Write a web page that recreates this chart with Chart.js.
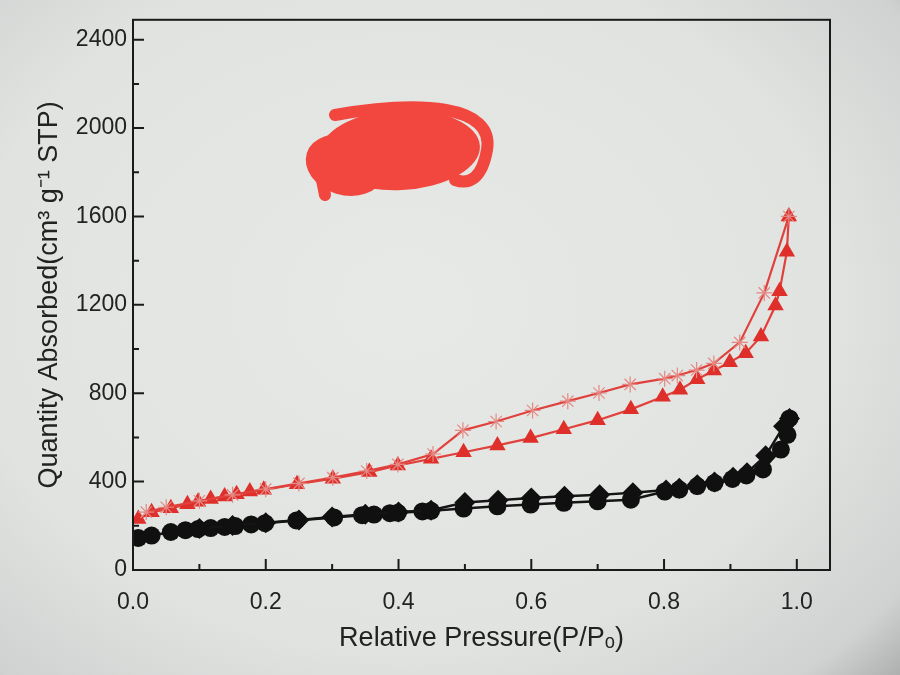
<!DOCTYPE html>
<html lang="en">
<head>
  <meta charset="UTF-8">
  <title>Isotherm</title>
  <script src="https://cdn.jsdelivr.net/npm/chart.js"></script>
  <style>
    html, body { margin: 0; padding: 0; }
    body {
      width: 900px; height: 675px; overflow: hidden;
      background: radial-gradient(ellipse 80% 85% at 45% 45%, #e6e9e6 0%, #e0e3e0 60%, #cfd2d0 85%, #9a9c9b 100%);
    }
    #wrap { position: relative; width: 900px; height: 675px; }
  </style>
</head>
<body>
  <div id="wrap"><canvas id="chart" width="900" height="675"></canvas></div>

  <script>
    // red sample: adsorption (triangles), desorption (stars)
    const redAdsP = [0.008, 0.028, 0.057, 0.082, 0.098, 0.117, 0.138, 0.156, 0.176, 0.197, 0.247, 0.301, 0.356, 0.399, 0.449, 0.498, 0.549, 0.599, 0.649, 0.700, 0.750, 0.798, 0.824, 0.850, 0.875, 0.899, 0.923, 0.946, 0.968, 0.974, 0.985, 0.988];
    const redAdsQ = [231, 261, 279, 298, 309, 321, 333, 343, 355, 363, 388, 413, 443, 473, 503, 533, 564, 597, 637, 678, 727, 784, 816, 863, 903, 940, 981, 1057, 1197, 1261, 1440, 1600];
    const redDesP = [0.988, 0.951, 0.914, 0.875, 0.849, 0.820, 0.801, 0.749, 0.702, 0.655, 0.602, 0.547, 0.497, 0.452, 0.399, 0.352, 0.301, 0.250, 0.200, 0.150, 0.100, 0.050, 0.020];
    const redDesQ = [1600, 1254, 1030, 935, 905, 880, 866, 840, 801, 764, 722, 672, 632, 525, 478, 448, 418, 392, 366, 340, 313, 284, 262];

    // black sample: adsorption (circles), desorption (diamonds)
    const blkAdsP = [0.008, 0.028, 0.057, 0.079, 0.098, 0.117, 0.138, 0.154, 0.178, 0.199, 0.246, 0.303, 0.345, 0.363, 0.387, 0.399, 0.436, 0.449, 0.498, 0.549, 0.599, 0.649, 0.700, 0.750, 0.801, 0.823, 0.850, 0.876, 0.903, 0.924, 0.949, 0.976, 0.986, 0.989];
    const blkAdsQ = [145, 156, 172, 180, 185, 190, 195, 199, 206, 212, 224, 238, 248, 251, 257, 259, 265, 268, 278, 288, 296, 304, 311, 318, 355, 364, 380, 394, 412, 428, 455, 545, 612, 686];
    const blkDesP = [0.989, 0.980, 0.953, 0.925, 0.904, 0.876, 0.850, 0.823, 0.803, 0.753, 0.703, 0.650, 0.600, 0.550, 0.500, 0.449, 0.400, 0.350, 0.300, 0.250, 0.200, 0.150, 0.100];
    const blkDesQ = [686, 650, 517, 440, 420, 398, 386, 370, 362, 350, 340, 334, 326, 316, 305, 270, 262, 252, 240, 226, 214, 201, 188];

    const xTicks = [0, 0.2, 0.4, 0.6, 0.8, 1.0];
    const yTicks = [0, 400, 800, 1200, 1600, 2000, 2400];

    function pts(xs, ys) { return xs.map((x, i) => ({ x: x, y: ys[i] })); }

    // frame and inward ticks
    const framePlugin = {
      id: 'frame',
      afterDraw(chart) {
        const c = chart.ctx, a = chart.chartArea;
        const xs = chart.scales.x, ys = chart.scales.y;
        c.save();
        c.strokeStyle = '#1a1a1a';
        c.lineWidth = 2;
        c.strokeRect(a.left, a.top, a.right - a.left, a.bottom - a.top);
        c.beginPath();
        for (let v = 0; v <= 1.0001; v += 0.1) {
          const px = xs.getPixelForValue(v);
          const major = Math.round(v * 10) % 2 === 0;
          c.moveTo(px, a.bottom);
          c.lineTo(px, a.bottom - (major ? 11 : 6));
        }
        for (let v = 0; v <= 2400; v += 200) {
          const py = ys.getPixelForValue(v);
          const major = v % 400 === 0;
          c.moveTo(a.left, py);
          c.lineTo(a.left + (major ? 11 : 6), py);
        }
        c.stroke();
        c.restore();
      }
    };

    // red scribble that hides the legend in the reference
    const scribblePlugin = {
      id: 'scribble',
      afterDraw(chart) {
        const c = chart.ctx;
        c.save();
        c.fillStyle = '#f2473f';
        c.strokeStyle = '#f2473f';
        c.beginPath();
        c.ellipse(400, 150, 80, 40, -0.05, 0, Math.PI * 2);
        c.fill();
        c.beginPath();
        c.ellipse(345, 165, 40, 30, 0.3, 0, Math.PI * 2);
        c.fill();
        c.lineWidth = 12;
        c.lineCap = 'round';
        c.beginPath();
        c.moveTo(335, 115);
        c.bezierCurveTo(420, 100, 495, 105, 487, 150);
        c.bezierCurveTo(482, 178, 470, 185, 455, 180);
        c.stroke();
        c.beginPath();
        c.moveTo(320, 170);
        c.lineTo(325, 195);
        c.stroke();
        c.restore();
      }
    };

    new Chart(document.getElementById('chart'), {
      type: 'scatter',
      data: {
        datasets: [
          {
            label: 'red desorption',
            data: pts(redDesP, redDesQ),
            showLine: true,
            borderColor: '#e0413c',
            borderWidth: 2.2,
            pointStyle: 'star',
            pointRadius: 8,
            pointBorderColor: '#e58884',
            pointBorderWidth: 1.2,
            pointBackgroundColor: '#e58884'
          },
          {
            label: 'red adsorption',
            data: pts(redAdsP, redAdsQ),
            showLine: true,
            borderColor: '#e0413c',
            borderWidth: 2.2,
            pointStyle: 'triangle',
            pointRadius: 9.5,
            pointBorderWidth: 0,
            pointBackgroundColor: '#df2f2a'
          },
          {
            label: 'black desorption',
            data: pts(blkDesP, blkDesQ),
            showLine: true,
            borderColor: '#141414',
            borderWidth: 2.5,
            pointStyle: 'rectRot',
            pointRadius: 10.5,
            pointBorderWidth: 0,
            pointBackgroundColor: '#101010'
          },
          {
            label: 'black adsorption',
            data: pts(blkAdsP, blkAdsQ),
            showLine: true,
            borderColor: '#141414',
            borderWidth: 2.5,
            pointStyle: 'circle',
            pointRadius: 9,
            pointBorderWidth: 0,
            pointBackgroundColor: '#101010'
          }
        ]
      },
      options: {
        responsive: false,
        animation: false,
        layout: { padding: { left: 33, right: 70, top: 11, bottom: 16 } },
        plugins: { legend: { display: false }, tooltip: { enabled: false } },
        scales: {
          x: {
            type: 'linear',
            min: 0,
            max: 1.05,
            afterBuildTicks: (s) => { s.ticks = xTicks.map(v => ({ value: v })); },
            afterFit: (s) => { s.height = 89; },
            grid: { display: false, drawTicks: false },
            border: { display: false },
            ticks: {
              color: '#222',
              padding: 19,
              font: { family: 'Liberation Sans', size: 23 },
              callback: (v) => v.toFixed(1)
            },
            title: {
              display: true,
              text: 'Relative Pressure(P/Pₒ)',
              color: '#222',
              padding: { top: 4, bottom: 4 },
              font: { family: 'Liberation Sans', size: 27 }
            }
          },
          y: {
            min: 0,
            max: 2490,
            afterBuildTicks: (s) => { s.ticks = yTicks.map(v => ({ value: v })); },
            afterFit: (s) => { s.width = 100; },
            grid: { display: false, drawTicks: false },
            border: { display: false },
            ticks: {
              color: '#222',
              padding: 6,
              font: { family: 'Liberation Sans', size: 23 },
              callback: (v) => String(v)
            },
            title: {
              display: true,
              text: 'Quantity Absorbed(cm³ g⁻¹ STP)',
              color: '#222',
              padding: { top: 0, bottom: 4 },
              font: { family: 'Liberation Sans', size: 27 }
            }
          }
        }
      },
      plugins: [framePlugin, scribblePlugin]
    });
  </script>
</body>
</html>
